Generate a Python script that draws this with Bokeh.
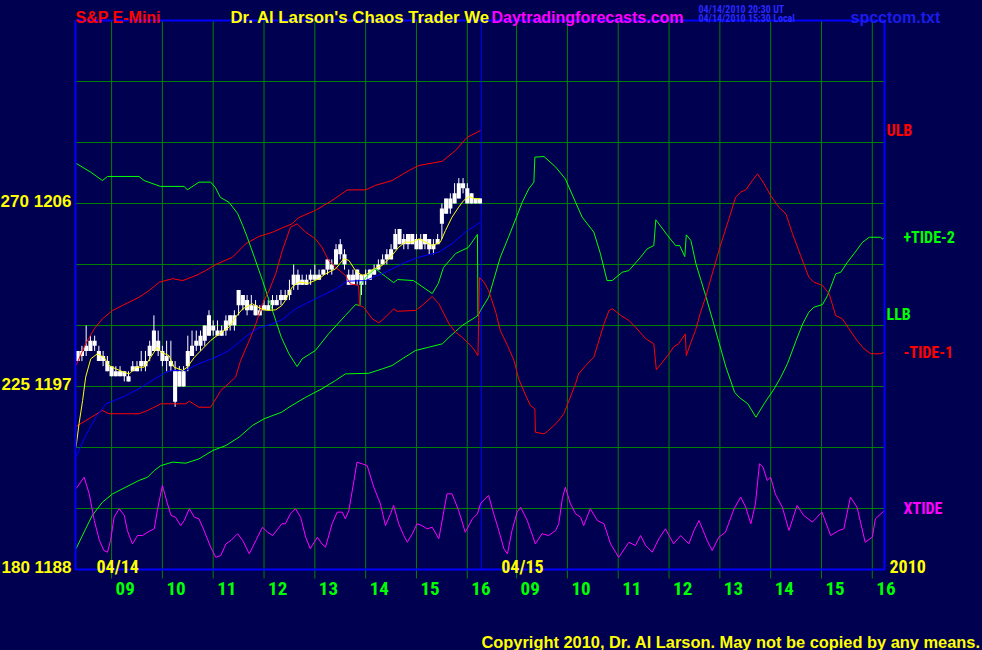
from bokeh.plotting import figure
from bokeh.models import Range1d, Label
from bokeh.embed import file_html
from bokeh.resources import INLINE

# ---------------- axis definitions ----------------
SESSION_START = 8.29          # left edge of the 04/14 session (hours)
DAY2_OFFSET = 7.97            # 04/15 hour-of-day -> continuous axis
DAY2_START = 8.305            # 04/15 session start (hours)
SESSION_END = 16.24           # right edge of the 04/15 session (hours)
PRICE_MIN, PRICE_MAX = 1188, 1215
GRID_PRICES = [1191, 1194, 1197, 1200, 1203, 1206, 1209, 1212]
PRICE_TICKS = [1188, 1197, 1206]
PRICE_LABELS = ["180 1188", "225 1197", "270 1206"]
HOURS = [9, 10, 11, 12, 13, 14, 15, 16]
HOUR_LABELS = ["09", "10", "11", "12", "13", "14", "15", "16"]
DATES = ["04/14", "04/15"]
YEAR = "2010"

# ---------------- 5-minute price bars, 04/14 ----------------
BAR_START = 8 + 20 / 60
BAR_STEP = 5 / 60
BAR_OPEN = [1198.25, 1198.50, 1198.75, 1198.75, 1199.25, 1198.75, 1198.50, 1198.25, 1198.00, 1197.75,
            1197.50, 1197.75, 1197.50, 1197.75, 1198.00, 1198.00, 1198.00, 1198.50, 1198.75, 1199.25,
            1198.75, 1198.50, 1198.25, 1197.75, 1197.00, 1197.75, 1198.00, 1198.50, 1199.00, 1199.00,
            1199.25, 1199.50, 1200.00, 1199.75, 1199.50, 1199.75, 1200.00, 1200.00, 1201.00, 1201.50,
            1201.25, 1200.75, 1201.00, 1200.50, 1200.75, 1201.00, 1201.00, 1201.00, 1201.25, 1201.25,
            1201.50, 1202.00, 1202.50, 1202.00, 1202.25, 1202.25, 1202.25, 1202.50, 1202.50, 1202.75,
            1203.00, 1203.00, 1203.50, 1203.50, 1202.50, 1202.00, 1202.25, 1202.50, 1202.25, 1202.25,
            1202.50, 1202.75, 1203.00, 1203.25, 1203.25, 1203.75, 1204.00, 1204.25, 1204.00, 1204.50,
            1204.25, 1203.75, 1204.00, 1204.25, 1203.75, 1204.00, 1205.00, 1205.50, 1205.75, 1206.00,
            1206.25, 1207.00, 1206.75, 1206.00, 1206.25, 1206.00]
BAR_CLOSE = [1198.75, 1198.75, 1199.00, 1199.25, 1199.00, 1198.25, 1198.25, 1197.75, 1197.50, 1197.50,
             1197.75, 1197.50, 1197.25, 1198.00, 1197.75, 1198.25, 1198.25, 1199.00, 1199.75, 1198.75,
             1198.25, 1198.25, 1198.00, 1196.25, 1197.75, 1197.00, 1198.75, 1199.00, 1199.25, 1199.50,
             1200.00, 1200.50, 1199.75, 1199.50, 1199.75, 1200.25, 1200.50, 1200.50, 1201.75, 1201.00,
             1200.75, 1201.00, 1200.50, 1200.75, 1201.00, 1200.75, 1201.25, 1201.25, 1201.50, 1201.50,
             1201.75, 1202.50, 1202.00, 1202.25, 1202.00, 1202.50, 1202.50, 1202.25, 1202.75, 1203.25,
             1202.75, 1203.75, 1204.00, 1203.00, 1202.00, 1202.50, 1202.75, 1202.00, 1202.50, 1202.75,
             1202.75, 1203.00, 1203.25, 1203.50, 1203.75, 1204.50, 1204.75, 1204.00, 1204.50, 1204.00,
             1203.75, 1204.25, 1204.50, 1203.75, 1204.00, 1204.25, 1205.75, 1206.25, 1206.25, 1206.50,
             1207.00, 1206.75, 1206.00, 1206.50, 1206.00, 1206.25]
BAR_HIGH = [1198.75, 1199.00, 1200.00, 1199.50, 1199.50, 1199.00, 1198.75, 1198.50, 1198.00, 1198.00,
            1198.00, 1197.75, 1197.75, 1198.25, 1198.25, 1198.75, 1198.75, 1199.25, 1200.50, 1199.75,
            1199.00, 1199.25, 1199.25, 1198.25, 1198.00, 1198.00, 1199.50, 1199.75, 1199.75, 1199.75,
            1200.00, 1200.75, 1200.25, 1200.25, 1200.00, 1200.50, 1200.50, 1200.75, 1201.75, 1201.50,
            1201.50, 1201.50, 1201.25, 1201.00, 1201.25, 1201.25, 1201.50, 1201.50, 1201.75, 1201.75,
            1202.25, 1203.00, 1202.75, 1202.50, 1202.50, 1202.75, 1203.00, 1202.75, 1202.75, 1203.25,
            1203.25, 1204.00, 1204.25, 1203.75, 1202.75, 1202.75, 1202.75, 1202.50, 1202.75, 1202.75,
            1203.00, 1203.25, 1203.50, 1203.75, 1204.00, 1204.75, 1204.75, 1204.50, 1204.50, 1204.50,
            1204.50, 1204.50, 1204.50, 1204.25, 1204.25, 1204.50, 1206.00, 1206.25, 1206.50, 1207.00,
            1207.25, 1207.25, 1207.00, 1206.50, 1206.25, 1206.25]
BAR_LOW = [1198.25, 1198.25, 1198.50, 1198.75, 1198.75, 1198.25, 1198.00, 1197.75, 1197.50, 1197.50,
           1197.50, 1197.25, 1197.25, 1197.75, 1197.75, 1197.75, 1197.75, 1198.25, 1198.75, 1198.50,
           1198.00, 1197.75, 1197.75, 1196.00, 1197.00, 1197.00, 1197.75, 1198.50, 1198.75, 1198.75,
           1199.00, 1199.50, 1199.50, 1199.50, 1199.50, 1199.50, 1199.75, 1199.75, 1200.50, 1200.75,
           1200.50, 1200.75, 1200.50, 1200.50, 1200.75, 1200.75, 1200.75, 1201.00, 1201.00, 1201.25,
           1201.25, 1201.75, 1201.75, 1202.00, 1202.00, 1202.00, 1202.25, 1202.25, 1202.50, 1202.50,
           1202.50, 1203.00, 1203.25, 1202.75, 1202.00, 1202.00, 1202.00, 1201.50, 1202.00, 1202.25,
           1202.50, 1202.75, 1203.00, 1203.00, 1203.25, 1203.75, 1204.00, 1203.75, 1203.75, 1204.00,
           1203.75, 1203.75, 1203.75, 1203.50, 1203.50, 1204.00, 1204.25, 1205.50, 1205.50, 1206.00,
           1206.25, 1206.50, 1206.00, 1206.00, 1206.00, 1206.00]

# ---------------- moving averages, 04/14 ----------------
MA_FAST_T = [8.30, 8.36, 8.43, 8.49, 8.59, 8.72, 8.85, 8.95, 9.08, 9.25, 9.35, 9.48, 9.64, 9.77, 9.90,
             9.97, 10.13, 10.23, 10.40, 10.49, 10.63, 10.79, 10.95, 11.12, 11.31, 11.44, 11.58, 11.77,
             11.94, 12.07, 12.23, 12.35, 12.42, 12.55, 12.68, 12.88, 13.08, 13.21, 13.41, 13.57, 13.67,
             13.80, 13.93, 14.03, 14.13, 14.32, 14.49, 14.65, 14.78, 14.92, 15.05, 15.18, 15.31, 15.47,
             15.57, 15.70, 15.83, 15.93, 16.03, 16.16, 16.26]
MA_FAST = [1194.01, 1195.17, 1196.31, 1197.46, 1198.36, 1198.61, 1198.44, 1198.03, 1197.87, 1197.70,
           1197.62, 1197.95, 1197.95, 1198.44, 1198.93, 1198.69, 1198.52, 1197.95, 1197.79, 1197.95,
           1198.44, 1198.85, 1199.26, 1199.59, 1199.92, 1200.41, 1200.82, 1201.07, 1200.82, 1200.74,
           1200.77, 1200.98, 1201.23, 1201.88, 1202.13, 1202.08, 1202.30, 1202.54, 1202.79, 1203.28,
           1203.20, 1202.70, 1202.46, 1202.54, 1202.74, 1202.95, 1203.36, 1203.85, 1204.10, 1204.10,
           1204.26, 1204.10, 1203.93, 1204.10, 1204.67, 1205.33, 1205.82, 1206.15, 1206.34, 1206.23,
           1206.23]
MA_SLOW_T = [8.30, 8.49, 8.69, 8.89, 9.21, 9.54, 9.80, 10.07, 10.20, 10.45, 10.72, 11.05, 11.31, 11.51,
             11.71, 11.90, 12.17, 12.35, 12.62, 13.01, 13.41, 13.64, 14.00, 14.39, 14.78, 15.05, 15.44,
             15.70, 15.96, 16.26]
MA_SLOW = [1193.52, 1194.59, 1195.49, 1196.15, 1196.47, 1196.89, 1197.30, 1197.70, 1197.79, 1197.79,
           1198.12, 1198.44, 1198.77, 1199.18, 1199.59, 1199.89, 1200.08, 1200.28, 1200.82, 1201.31,
           1201.80, 1202.18, 1202.21, 1202.62, 1203.11, 1203.36, 1203.61, 1204.02, 1204.59, 1205.08]

# ---------------- bands, 04/14 ----------------
ULB_T = [8.30, 8.49, 8.66, 8.82, 9.02, 9.21, 9.54, 9.74, 9.94, 10.20, 10.40, 10.66, 10.85, 11.05, 11.38,
         11.64, 11.90, 12.17, 12.35, 12.55, 12.68, 13.01, 13.34, 13.64, 14.00, 14.19, 14.52, 14.85, 15.05,
         15.51, 15.77, 16.00, 16.26]
ULB = [1198.03, 1199.10, 1199.84, 1200.33, 1200.74, 1200.98, 1201.39, 1201.72, 1202.13, 1202.30,
       1202.21, 1202.46, 1202.70, 1203.00, 1203.36, 1204.02, 1204.38, 1204.59, 1204.79, 1205.00,
       1205.30, 1205.66, 1206.15, 1206.67, 1206.67, 1206.89, 1207.13, 1207.62, 1207.87, 1208.08,
       1208.61, 1209.26, 1209.59]
LLB_T = [8.30, 8.49, 8.62, 8.82, 9.02, 9.28, 9.54, 9.71, 9.84, 9.97, 10.20, 10.46, 10.72, 10.99, 11.25,
         11.51, 11.77, 12.00, 12.35, 12.49, 12.82, 13.14, 13.41, 13.60, 14.06, 14.33, 14.52, 14.72, 14.98,
         15.24, 15.51, 15.64, 15.90, 16.16, 16.23]
LLB = [1189.02, 1190.00, 1190.66, 1191.31, 1191.72, 1192.05, 1192.38, 1192.54, 1192.87, 1193.11,
       1193.28, 1193.23, 1193.44, 1193.85, 1194.10, 1194.51, 1195.08, 1195.41, 1195.74, 1195.98,
       1196.47, 1196.89, 1197.30, 1197.62, 1197.65, 1197.87, 1198.03, 1198.36, 1198.77, 1198.93,
       1199.10, 1199.42, 1200.00, 1200.41, 1200.54]

# ---------------- +TIDE-2 ----------------
TIDE2_T1 = [8.30, 8.59, 8.82, 8.92, 9.54, 9.64, 9.96, 10.43, 10.49, 10.72, 10.95, 11.04, 11.14, 11.31,
            11.48, 11.58, 11.67, 11.81, 11.97, 12.10, 12.23, 12.34, 12.49, 12.65, 12.75, 13.01, 13.27,
            13.60, 13.80, 13.89, 13.90, 14.02, 14.19, 14.39, 14.55, 14.63, 14.94, 15.31, 15.43, 15.53,
            15.77, 16.02, 16.20, 16.21]
TIDE2_V1 = [1207.98, 1207.54, 1207.13, 1207.33, 1207.33, 1207.13, 1206.84, 1206.84, 1206.67, 1207.05,
            1207.05, 1206.80, 1206.30, 1206.06, 1205.51, 1204.92, 1204.34, 1203.36, 1202.21, 1201.23,
            1200.25, 1199.42, 1198.61, 1197.98, 1198.36, 1198.77, 1199.59, 1200.49, 1201.03, 1200.98,
            1202.02, 1202.41, 1202.80, 1202.41, 1202.11, 1202.26, 1202.21, 1201.57, 1202.07, 1202.85,
            1203.54, 1203.84, 1204.48, 1200.49]
TIDE2_T2 = [8.29, 8.45, 8.68, 8.84, 9.01, 9.11, 9.24, 9.34, 9.36, 9.54, 9.77, 9.96, 10.16, 10.29, 10.52,
            10.65, 10.78, 10.88, 11.08, 11.21, 11.44, 11.57, 11.70, 11.74, 11.97, 12.13, 12.21, 12.31,
            12.34, 12.43, 12.53, 12.63, 12.73, 12.86, 12.99, 13.12, 13.29, 13.38, 13.55, 13.71, 13.87,
            14.07, 14.20, 14.33, 14.50, 14.63, 14.75, 14.85, 15.02, 15.12, 15.28, 15.38, 15.51, 15.64,
            15.81, 15.94, 16.16, 16.20, 16.24]
TIDE2_V2 = [1200.74, 1201.39, 1203.36, 1204.34, 1205.41, 1206.06, 1206.72, 1207.05, 1208.28, 1208.31,
            1207.79, 1207.21, 1206.06, 1205.33, 1204.59, 1203.53, 1202.21, 1202.21, 1202.62, 1202.70,
            1203.36, 1203.77, 1203.93, 1205.20, 1204.43, 1203.93, 1203.93, 1203.39, 1204.46, 1204.18,
            1203.03, 1202.21, 1201.39, 1200.25, 1199.10, 1197.95, 1196.72, 1196.47, 1196.15, 1195.49,
            1196.15, 1196.89, 1197.46, 1198.12, 1199.26, 1200.08, 1200.65, 1200.90, 1201.03, 1201.48,
            1202.54, 1202.62, 1203.11, 1203.53, 1204.10, 1204.34, 1204.34, 1204.26, 1204.31]

# ---------------- -TIDE-1 ----------------
TIDE1_T1 = [8.30, 8.82, 8.95, 9.54, 9.71, 9.97, 10.46, 10.53, 10.72, 10.95, 11.15, 11.44, 11.54, 11.71,
            11.84, 11.97, 12.10, 12.23, 12.36, 12.52, 12.65, 12.82, 13.01, 13.14, 13.27, 13.41, 13.60,
            13.70, 13.86, 13.88, 13.96, 14.13, 14.26, 14.39, 14.55, 14.62, 14.98, 15.11, 15.31, 15.44,
            15.54, 15.64, 15.77, 15.90, 16.10, 16.21]
TIDE1_V1 = [1195.03, 1195.82, 1195.66, 1195.66, 1195.82, 1196.15, 1196.15, 1196.28, 1195.98, 1195.98,
            1196.80, 1197.46, 1198.28, 1199.26, 1200.08, 1201.07, 1201.72, 1202.54, 1203.69, 1204.83,
            1205.00, 1204.59, 1204.26, 1203.85, 1203.20, 1202.87, 1202.46, 1202.05, 1201.97, 1200.98,
            1200.90, 1200.33, 1200.13, 1200.41, 1200.82, 1200.70, 1200.74, 1200.98, 1201.43, 1201.07,
            1200.58, 1200.08, 1199.67, 1199.42, 1198.93, 1198.52]
TIDE1_T2 = [8.27, 8.36, 8.45, 8.59, 8.68, 8.82, 8.95, 9.04, 9.18, 9.27, 9.36, 9.37, 9.54, 9.63, 9.80,
            9.93, 10.03, 10.16, 10.22, 10.36, 10.52, 10.62, 10.72, 10.82, 10.89, 11.05, 11.21, 11.34,
            11.54, 11.70, 11.75, 11.87, 12.00, 12.10, 12.19, 12.32, 12.34, 12.42, 12.52, 12.62, 12.72,
            12.85, 13.01, 13.18, 13.31, 13.41, 13.51, 13.64, 13.74, 13.87, 14.00, 14.16, 14.30, 14.43,
            14.59, 14.75, 14.85, 15.02, 15.15, 15.28, 15.41, 15.54, 15.70, 15.84, 15.97, 16.16, 16.24]
TIDE1_V2 = [1202.36, 1202.13, 1201.72, 1200.65, 1199.75, 1199.02, 1198.28, 1197.38, 1196.56, 1196.07,
            1195.90, 1194.75, 1194.67, 1194.84, 1195.24, 1195.66, 1196.31, 1197.13, 1197.62, 1198.03,
            1198.44, 1199.26, 1200.08, 1200.74, 1200.82, 1200.49, 1200.25, 1199.92, 1199.35, 1199.10,
            1197.82, 1198.20, 1198.61, 1198.97, 1199.10, 1199.59, 1198.52, 1199.10, 1199.75, 1200.65,
            1201.39, 1202.54, 1203.93, 1205.25, 1206.31, 1206.56, 1206.67, 1207.13, 1207.46, 1206.97,
            1206.39, 1205.82, 1205.49, 1204.51, 1203.44, 1202.38, 1202.13, 1201.97, 1201.56, 1200.49,
            1200.33, 1199.84, 1199.26, 1198.85, 1198.61, 1198.61, 1198.69]

# ---------------- XTIDE ----------------
XTIDE_T1 = [8.30, 8.46, 8.56, 8.66, 8.76, 8.85, 8.92, 8.98, 9.05, 9.15, 9.25, 9.31, 9.41, 9.51, 9.61,
            9.74, 9.84, 9.90, 10.00, 10.10, 10.17, 10.26, 10.36, 10.43, 10.53, 10.63, 10.72, 10.82,
            10.95, 11.05, 11.15, 11.25, 11.35, 11.48, 11.58, 11.71, 11.84, 11.97, 12.07, 12.17, 12.35,
            12.42, 12.52, 12.62, 12.72, 12.82, 12.91, 13.05, 13.14, 13.21, 13.34, 13.44, 13.54, 13.60,
            13.67, 13.77, 13.83, 13.93, 14.03, 14.16, 14.29, 14.39, 14.49, 14.55, 14.65, 14.75, 14.82,
            14.92, 15.01, 15.11, 15.21, 15.31, 15.44, 15.54, 15.60, 15.70, 15.83, 15.96, 16.10, 16.20]
XTIDE_V1 = [1191.97, 1192.54, 1191.72, 1190.41, 1189.43, 1188.93, 1188.85, 1189.43, 1190.57, 1190.99,
            1190.66, 1189.92, 1189.26, 1189.67, 1189.67, 1189.88, 1190.00, 1190.90, 1192.13, 1191.23,
            1190.66, 1190.57, 1190.16, 1190.41, 1190.99, 1190.57, 1190.49, 1189.92, 1189.10, 1188.60,
            1188.69, 1189.26, 1189.43, 1189.76, 1189.43, 1188.77, 1189.43, 1190.08, 1189.83, 1189.67,
            1190.25, 1190.25, 1190.74, 1190.99, 1190.57, 1189.59, 1189.02, 1189.59, 1189.26, 1189.10,
            1190.25, 1190.82, 1190.82, 1190.49, 1190.90, 1192.38, 1193.28, 1193.20, 1193.11, 1192.05,
            1191.23, 1190.16, 1190.74, 1191.15, 1190.25, 1189.67, 1189.34, 1189.76, 1190.25, 1190.16,
            1190.00, 1190.08, 1189.51, 1190.90, 1191.72, 1191.72, 1190.90, 1189.83, 1190.49, 1190.74]
XTIDE_T2 = [8.29, 8.38, 8.45, 8.55, 8.65, 8.75, 8.82, 8.91, 9.01, 9.08, 9.21, 9.37, 9.50, 9.63, 9.77,
            9.83, 9.90, 9.96, 10.06, 10.16, 10.26, 10.32, 10.45, 10.59, 10.72, 10.85, 11.01, 11.21,
            11.34, 11.44, 11.54, 11.67, 11.80, 11.93, 12.09, 12.23, 12.39, 12.49, 12.59, 12.75, 12.85,
            12.98, 13.11, 13.28, 13.41, 13.51, 13.61, 13.70, 13.78, 13.85, 13.93, 14.00, 14.09, 14.23,
            14.36, 14.52, 14.65, 14.82, 15.01, 15.18, 15.34, 15.44, 15.57, 15.70, 15.86, 16.00, 16.06,
            16.24]
XTIDE_V2 = [1191.23, 1191.48, 1191.64, 1190.74, 1189.92, 1189.02, 1188.77, 1189.92, 1190.82, 1191.06,
            1190.41, 1189.26, 1189.76, 1189.67, 1189.92, 1190.25, 1191.48, 1192.05, 1191.23, 1190.74,
            1190.57, 1190.16, 1190.99, 1190.41, 1190.25, 1189.26, 1188.60, 1189.34, 1189.18, 1189.67,
            1189.18, 1188.85, 1189.51, 1190.00, 1189.26, 1189.67, 1189.26, 1189.92, 1190.41, 1189.43,
            1188.93, 1189.59, 1189.83, 1190.99, 1191.56, 1191.06, 1190.25, 1191.23, 1193.20, 1193.03,
            1192.38, 1192.54, 1191.72, 1191.06, 1189.92, 1191.15, 1190.66, 1190.33, 1190.82, 1189.67,
            1189.92, 1190.00, 1191.56, 1191.06, 1189.34, 1189.59, 1190.49, 1190.90]

# ---------------- layout & styling ----------------
CANVAS_W, CANVAS_H = 982, 650
PLOT_L, PLOT_R, PLOT_T, PLOT_B = 75, 884, 20, 569     # chart box in pixels
TICK_LEN = 9
NAVY = "#000050"
GRID = "#008000"
BLUE = "#0000ff"
GREEN = "#00ff00"
RED = "#ff0000"
MAGENTA = "#ff00ff"
YELLOW = "#ffff00"
WHITE = "#ffffff"
BOLD_FONT = "Liberation Sans"
NARROW_FONT = "Roboto Condensed"

X_END = SESSION_END + DAY2_OFFSET
DIVIDER = DAY2_START + DAY2_OFFSET
PX_PER_HOUR = (PLOT_R - PLOT_L) / (X_END - SESSION_START)
PX_PER_POINT = (PLOT_B - PLOT_T) / (PRICE_MAX - PRICE_MIN)
x_range = Range1d(SESSION_START - PLOT_L / PX_PER_HOUR, X_END + (CANVAS_W - PLOT_R) / PX_PER_HOUR)
y_range = Range1d(PRICE_MIN - (CANVAS_H - PLOT_B) / PX_PER_POINT, PRICE_MAX + PLOT_T / PX_PER_POINT)


def both_days(t1, v1, t2, v2):
    return list(t1) + [t + DAY2_OFFSET for t in t2], list(v1) + list(v2)


p = figure(width=CANVAS_W, height=CANVAS_H, output_backend="svg", toolbar_location=None,
           x_range=x_range, y_range=y_range, min_border=0,
           background_fill_color=NAVY, border_fill_color=NAVY, outline_line_color=None)
p.axis.visible = False
p.grid.visible = False

# grid, hour ticks, divider
tick_x = HOURS + [h + DAY2_OFFSET for h in HOURS]
tick_bottom = PRICE_MIN - TICK_LEN / PX_PER_POINT
p.segment(x0=tick_x, y0=[tick_bottom] * len(tick_x), x1=tick_x, y1=[PRICE_MAX] * len(tick_x),
          line_color=GRID, line_width=1)
p.segment(x0=[SESSION_START] * len(GRID_PRICES), y0=GRID_PRICES,
          x1=[X_END] * len(GRID_PRICES), y1=GRID_PRICES, line_color=GRID, line_width=1)
p.segment(x0=[DIVIDER], y0=[PRICE_MIN], x1=[DIVIDER], y1=[PRICE_MAX], line_color=BLUE, line_width=1)

# price bars
bar_x = [BAR_START + i * BAR_STEP for i in range(len(BAR_OPEN))]
p.segment(x0=bar_x, y0=BAR_LOW, x1=bar_x, y1=BAR_HIGH, line_color=WHITE, line_width=1)
p.vbar(x=bar_x, width=0.08,
       top=[max(o, c) for o, c in zip(BAR_OPEN, BAR_CLOSE)],
       bottom=[min(o, c) for o, c in zip(BAR_OPEN, BAR_CLOSE)],
       fill_color=WHITE, line_color=None)

# bands, tides, averages
p.line(LLB_T, LLB, line_color=GREEN, line_width=1)
p.line(ULB_T, ULB, line_color=RED, line_width=1)
tx, tv = both_days(TIDE2_T1, TIDE2_V1, TIDE2_T2, TIDE2_V2)
p.line(tx, tv, line_color=GREEN, line_width=1)
rx, rv = both_days(TIDE1_T1, TIDE1_V1, TIDE1_T2, TIDE1_V2)
p.line(rx, rv, line_color=RED, line_width=1)
xx, xv = both_days(XTIDE_T1, XTIDE_V1, XTIDE_T2, XTIDE_V2)
p.line(xx, xv, line_color=MAGENTA, line_width=1)
p.line(MA_SLOW_T, MA_SLOW, line_color=BLUE, line_width=1)
p.line(MA_FAST_T, MA_FAST, line_color=YELLOW, line_width=1)

# chart frame
p.quad(left=[SESSION_START], right=[X_END], bottom=[PRICE_MIN], top=[PRICE_MAX],
       fill_color=None, line_color=BLUE, line_width=2)


def lab(text, x, y, color, size, font=BOLD_FONT, xu="data", yu="data", xo=0, yo=0, align="left"):
    p.add_layout(Label(x=x, y=y, x_units=xu, y_units=yu, x_offset=xo, y_offset=yo, text=text,
                       text_color=color, text_font=font, text_font_size=size,
                       text_font_style="bold", text_align=align, text_baseline="alphabetic"))


# right-hand series labels, next to each series' last value
lab("ULB", X_END, ULB[-1], RED, "16px", NARROW_FONT, xo=2)
lab("+TIDE-2", X_END, TIDE2_V2[-1], GREEN, "16px", NARROW_FONT, xo=19)
lab("LLB", X_END, LLB[-1], GREEN, "16px", NARROW_FONT, xo=2)
lab("-TIDE-1", X_END, TIDE1_V2[-1], RED, "16px", NARROW_FONT, xo=19)
lab("XTIDE", X_END, XTIDE_V2[-1], MAGENTA, "16px", NARROW_FONT, xo=19, yo=2)

# left price labels
for v, t in zip(PRICE_TICKS, PRICE_LABELS):
    lab(t, SESSION_START, v, YELLOW, "17px", BOLD_FONT, xo=-4, yo=2, align="right")

# hour labels
for h, t in zip(tick_x, HOUR_LABELS + HOUR_LABELS):
    lab(t, h, PRICE_MIN, GREEN, "19px", NARROW_FONT, xo=4, yo=-19)

# date labels
lab(DATES[0], SESSION_START, PRICE_MIN, YELLOW, "18px", NARROW_FONT, xo=21, yo=3)
lab(DATES[1], DIVIDER, PRICE_MIN, YELLOW, "18px", NARROW_FONT, xo=20, yo=3)
lab(YEAR, X_END, PRICE_MIN, YELLOW, "18px", NARROW_FONT, xo=5, yo=3)

# header and footer (screen units, measured up from the bottom of the canvas)
lab("S&P E-Mini", 75, CANVAS_H - 17, RED, "16px", xu="screen", yu="screen")
lab("Dr. Al Larson's Chaos Trader We", 230, CANVAS_H - 17, YELLOW, "16.8px", xu="screen", yu="screen")
lab("Daytradingforecasts.com", 491, CANVAS_H - 17, MAGENTA, "16px", xu="screen", yu="screen")
lab("04/14/2010 20:30 UT", 698, CANVAS_H - 9, "#2828ff", "10px", NARROW_FONT, xu="screen", yu="screen")
lab("04/14/2010 15:30 Local", 698, CANVAS_H - 18, "#2828ff", "10px", NARROW_FONT, xu="screen", yu="screen")
lab("spcctom.txt", 850, CANVAS_H - 17, "#1c1ce8", "16px", xu="screen", yu="screen")
lab("Copyright 2010, Dr. Al Larson. May not be copied by any means.", 481, 9, YELLOW, "16.4px",
    xu="screen", yu="screen")

html = file_html(p, INLINE)
html = html.replace("<head>", "<head><style>html,body{background:#000050;overflow:hidden;}</style>", 1)
open("out.html", "w").write(html)
